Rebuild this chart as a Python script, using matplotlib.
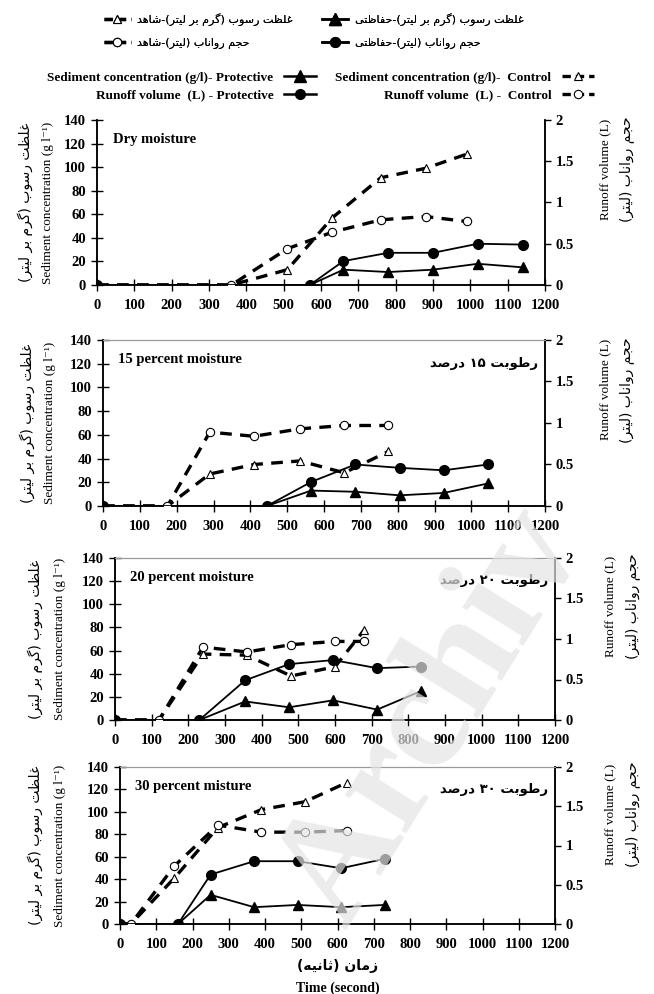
import re
import numpy as np
import matplotlib
matplotlib.use('Agg')
import matplotlib.pyplot as plt
from matplotlib.lines import Line2D

plt.rcParams['font.family'] = ['Liberation Serif', 'DejaVu Serif']

# ---------------- data ----------------
# time in seconds, sediment concentration in g/l, runoff volume in L
panel_names = ['Dry moisture', '15 percent moisture', '20 percent moisture', '30 percent misture']
panel_fa = ['', 'رطوبت ۱۵ درصد', 'رطوبت ۲۰ درصد', 'رطوبت ۳۰ درصد']

ctrl_t = [[0, 360, 510, 630, 760, 880, 990],
          [0, 175, 290, 410, 535, 655, 775],
          [0, 120, 240, 360, 480, 600, 680],
          [0, 30, 150, 270, 390, 510, 625]]
ctrl_sed = [[0, 0, 13, 57, 91, 99, 111],
            [0, 0, 27, 35, 38, 28, 46],
            [0, 0, 57, 56, 38, 46, 78],
            [0, 0, 41, 86, 102, 109, 126]]
ctrl_run = [[0, 0, 0.44, 0.64, 0.79, 0.83, 0.77],
            [0, 0, 0.89, 0.84, 0.93, 0.97, 0.97],
            [0, 0, 0.90, 0.84, 0.93, 0.97, 0.97],
            [0, 0, 0.74, 1.26, 1.17, 1.17, 1.19]]

prot_t = [[0, 570, 660, 780, 900, 1020, 1140],
          [0, 445, 565, 685, 805, 925, 1045],
          [0, 230, 355, 475, 595, 715, 835],
          [0, 160, 250, 370, 490, 610, 730]]
prot_sed = [[0, 0, 13, 11, 13, 18, 15],
            [0, 0, 13, 12, 9, 11, 19],
            [0, 0, 16, 11, 17, 9, 25],
            [0, 0, 26, 15, 17, 15, 17]]
prot_run = [[0, 0, 0.29, 0.39, 0.39, 0.50, 0.49],
            [0, 0, 0.29, 0.50, 0.46, 0.43, 0.50],
            [0, 0, 0.49, 0.69, 0.74, 0.64, 0.66],
            [0, 0, 0.63, 0.80, 0.80, 0.71, 0.83]]

# ---------------- simple persian shaping (no bidi lib available) ----------------
FORMS = {
    'ا': (0xFE8D, 0xFE8E, None, None), 'د': (0xFEA9, 0xFEAA, None, None),
    'ر': (0xFEAD, 0xFEAE, None, None), 'ز': (0xFEAF, 0xFEB0, None, None),
    'و': (0xFEED, 0xFEEE, None, None),
    'ب': (0xFE8F, 0xFE90, 0xFE91, 0xFE92), 'ت': (0xFE95, 0xFE96, 0xFE97, 0xFE98),
    'ث': (0xFE99, 0xFE9A, 0xFE9B, 0xFE9C), 'ج': (0xFE9D, 0xFE9E, 0xFE9F, 0xFEA0),
    'ح': (0xFEA1, 0xFEA2, 0xFEA3, 0xFEA4), 'س': (0xFEB1, 0xFEB2, 0xFEB3, 0xFEB4),
    'ش': (0xFEB5, 0xFEB6, 0xFEB7, 0xFEB8), 'ص': (0xFEB9, 0xFEBA, 0xFEBB, 0xFEBC),
    'ط': (0xFEC1, 0xFEC2, 0xFEC3, 0xFEC4), 'ظ': (0xFEC5, 0xFEC6, 0xFEC7, 0xFEC8),
    'غ': (0xFECD, 0xFECE, 0xFECF, 0xFED0), 'ف': (0xFED1, 0xFED2, 0xFED3, 0xFED4),
    'ل': (0xFEDD, 0xFEDE, 0xFEDF, 0xFEE0), 'م': (0xFEE1, 0xFEE2, 0xFEE3, 0xFEE4),
    'ن': (0xFEE5, 0xFEE6, 0xFEE7, 0xFEE8), 'ه': (0xFEE9, 0xFEEA, 0xFEEB, 0xFEEC),
    'گ': (0xFB92, 0xFB93, 0xFB94, 0xFB95), 'ی': (0xFBFC, 0xFBFD, 0xFBFE, 0xFBFF),
}


def fa(s):
    out = []
    for i, ch in enumerate(s):
        if ch not in FORMS:
            out.append(ch)
            continue
        iso, fin, ini, med = FORMS[ch]
        prev = s[i - 1] if i > 0 else ''
        nxt = s[i + 1] if i + 1 < len(s) else ''
        jp = prev in FORMS and FORMS[prev][2] is not None
        jn = ini is not None and nxt in FORMS
        if jp and jn:
            code = med
        elif jp:
            code = fin
        elif jn:
            code = ini
        else:
            code = iso
        out.append(chr(code))
    vis = ''.join(out)[::-1]
    vis = vis.translate(str.maketrans('()', ')('))
    vis = re.sub('[۰-۹0-9]+', lambda m: m.group()[::-1], vis)
    return vis


FA = ['DejaVu Sans']
W, H = 654.0, 994.0

fig = plt.figure(figsize=(6.54, 9.94), dpi=100)

# axes boxes in pixels: left, right, top, bottom
boxes_px = [(97, 545, 120, 285), (103, 545, 340, 506), (115, 555, 558, 720), (120, 555, 767, 924)]
# label x positions in pixels (persian left, english left, english right, persian right)
lab_px = [(25, 48, 605, 627), (27, 50, 605, 627), (35, 60, 610, 633), (35, 60, 610, 633)]

dash = (3.5, 2.5)
for k in range(4):
    l, r, t, b = boxes_px[k]
    ax = fig.add_axes([l / W, 1 - b / H, (r - l) / W, (b - t) / H])
    ax2 = ax.twinx()
    ax.patch.set_visible(False)
    ax2.patch.set_visible(False)
    ax.plot(ctrl_t[k], ctrl_sed[k], color='k', lw=2.4, dashes=dash, marker='^',
            mfc='white', mec='k', mew=0.8, ms=6, zorder=3)
    ax.plot(prot_t[k], prot_sed[k], color='k', lw=1.3, marker='^', ms=7, zorder=3)
    ax2.plot(ctrl_t[k], ctrl_run[k], color='k', lw=2.4, dashes=dash, marker='o',
             mfc='white', mec='k', mew=0.8, ms=6, zorder=3)
    ax2.plot(prot_t[k], prot_run[k], color='k', lw=1.3, marker='o', ms=7, zorder=3)

    ax.set_xlim(0, 1200)
    ax.set_ylim(0, 140)
    ax2.set_ylim(0, 2)
    ax.set_xticks(np.arange(0, 1201, 100))
    ax.set_yticks(np.arange(0, 141, 20))
    ax2.set_yticks([0, 0.5, 1, 1.5, 2])
    ax2.set_yticklabels(['0', '0.5', '1', '1.5', '2'])
    ax.tick_params(axis='x', direction='inout', length=8, width=1, labelsize=10.5, pad=6)
    ax.tick_params(axis='y', direction='inout', length=8, width=1, labelsize=10.5, pad=4)
    ax2.tick_params(axis='y', direction='out', length=4, width=1, labelsize=10.5)
    for a in (ax, ax2):
        for lab in a.get_xticklabels() + a.get_yticklabels():
            lab.set_fontweight('bold')
        a.spines['top'].set_color('#9a9a9a' if k > 0 else 'none')
        a.spines['left'].set_linewidth(1.1)
        a.spines['right'].set_linewidth(1.1)
        a.spines['bottom'].set_linewidth(1.1)

    ax.text(0.035, 0.92, panel_names[k], transform=ax.transAxes, fontsize=10.5,
            fontweight='bold', va='top')
    if panel_fa[k]:
        ax.text(0.985, 0.9, fa(panel_fa[k]), transform=ax.transAxes, fontsize=9.5,
                fontweight='bold', family=FA, ha='right', va='top')

    pl, el, er, pr = lab_px[k]
    ymid = 1 - (t + b) / 2 / H
    yr = 1 - (b - 0.7 * (b - t)) / H
    fig.text(pl / W, ymid, fa('غلظت رسوب (گرم بر لیتر)'), rotation=90, fontsize=10,
             family=FA, ha='center', va='center')
    fig.text(el / W, ymid, 'Sediment concentration (g l⁻¹)', rotation=90, fontsize=9.5,
             ha='center', va='center')
    fig.text(er / W, yr, 'Runoff volume (L)', rotation=90, fontsize=9.5,
             ha='center', va='center')
    fig.text(pr / W, yr, fa('حجم رواناب (لیتر)'), rotation=90, fontsize=10,
             family=FA, ha='center', va='center')

    if k == 3:
        ax.text(0.5, -0.27, fa('زمان (ثانیه)'), transform=ax.transAxes, fontsize=10,
                fontweight='bold', family=FA, ha='center', va='center')
        ax.text(0.5, -0.41, 'Time (second)', transform=ax.transAxes, fontsize=10,
                fontweight='bold', ha='center', va='center')

# ---------------- legends ----------------
h_cs = Line2D([], [], color='k', lw=2.4, dashes=(2.5, 1.5), marker='^', mfc='white', ms=6, mew=0.8)
h_cr = Line2D([], [], color='k', lw=2.4, dashes=(2.5, 1.5), marker='o', mfc='white', ms=6, mew=0.8)
h_ps = Line2D([], [], color='k', lw=1.8, marker='^', ms=8)
h_pr = Line2D([], [], color='k', lw=1.8, marker='o', ms=7)

leg_fa = fig.legend([h_cs, h_cr, h_ps, h_pr],
                    [fa('غلظت رسوب (گرم بر لیتر)-شاهد'), fa('حجم رواناب (لیتر)-شاهد'),
                     fa('غلظت رسوب (گرم بر لیتر)-حفاظتی'), fa('حجم رواناب (لیتر)-حفاظتی')],
                    ncol=2, loc='center', bbox_to_anchor=(0.48, 0.969), frameon=False,
                    prop={'family': FA, 'size': 8}, handlelength=2.4,
                    columnspacing=2.6, labelspacing=1.1, handletextpad=0.6)
fig.add_artist(leg_fa)

fig.legend([h_ps, h_pr, h_cs, h_cr],
           ['Sediment concentration (g/l)- Protective', 'Runoff volume  (L) - Protective',
            'Sediment concentration (g/l)-  Control', 'Runoff volume  (L) -  Control'],
           ncol=2, loc='center', bbox_to_anchor=(0.49, 0.913), frameon=False,
           markerfirst=False, prop={'family': 'Liberation Serif', 'weight': 'bold', 'size': 9.5},
           handlelength=2.4, columnspacing=1.5, labelspacing=0.45, handletextpad=0.8)

# watermark (only the part that shows in the reference)
fig.text(345 / W, 1 - 930 / H, 'Archiv', fontsize=112, fontweight='bold',
         color='#e4e4e4', alpha=0.7, rotation=58, rotation_mode='anchor',
         ha='left', va='baseline', zorder=10)

fig.savefig('out.png', dpi=100)
